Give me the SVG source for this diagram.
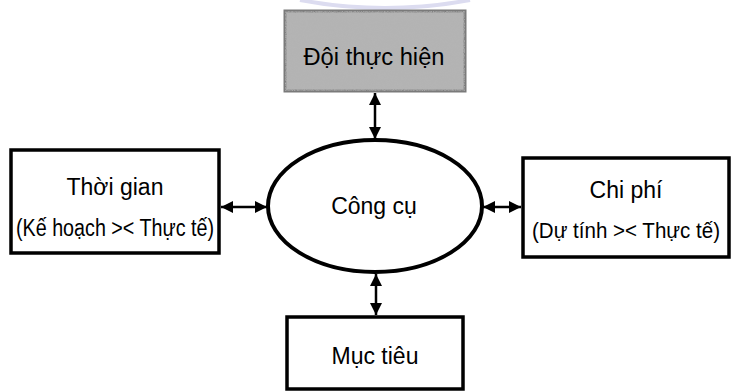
<svg xmlns="http://www.w3.org/2000/svg" width="732" height="392" viewBox="0 0 732 392">
<style>
.box{fill:#fff;stroke:#000;stroke-width:3.5}
.lbl{font-family:"Liberation Sans",Arial,sans-serif;font-size:23px;fill:#000;text-anchor:middle}
.sm{font-size:22px}
.con{stroke:#000;stroke-width:2.5;fill:none;marker-start:url(#ah);marker-end:url(#ah)}
</style>
<defs>
<marker id="ah" viewBox="0 0 10 10" refX="10" refY="5" markerWidth="12" markerHeight="12" markerUnits="userSpaceOnUse" orient="auto-start-reverse">
<path d="M0,0 L10,5 L0,10 Z" fill="#000"/>
</marker>
<filter id="grain" x="0" y="0" width="100%" height="100%">
<feTurbulence type="fractalNoise" baseFrequency="0.9" numOctaves="2" seed="3" result="n"/>
<feColorMatrix in="n" type="matrix" values="0 0 0 0 0.45  0 0 0 0 0.45  0 0 0 0 0.45  0 0 0 -1.4 1.2" result="g"/>
<feComposite in="g" in2="SourceGraphic" operator="in"/>
</filter>
</defs>
<path d="M300,0 Q385,16 470,0" fill="none" stroke="#dcdcf0" stroke-width="4"/>
<g id="connectors">
<line class="con" x1="375" y1="93" x2="375" y2="139"/>
<line class="con" x1="221" y1="207" x2="267" y2="207"/>
<line class="con" x1="483" y1="207" x2="521" y2="207"/>
<line class="con" x1="376" y1="274" x2="376" y2="315"/>
</g>
<g id="doi-thuc-hien">
<rect x="285" y="11" width="180" height="80" fill="#b4b4b4" stroke="#7a7a7a" stroke-width="3"/>
<rect x="285" y="11" width="180" height="80" fill="#fff" filter="url(#grain)" opacity="0.9"/>
<text class="lbl" x="374" y="65" textLength="141" lengthAdjust="spacingAndGlyphs">Đội thực hiện</text>
</g>
<g id="cong-cu">
<ellipse cx="375" cy="206" rx="107" ry="66" fill="#fff" stroke="#000" stroke-width="4"/>
<text class="lbl" x="374" y="214">Công cụ</text>
</g>
<g id="thoi-gian">
<rect class="box" x="11" y="150" width="208" height="103"/>
<text class="lbl" x="115" y="195">Thời gian</text>
<text class="lbl" x="115" y="236" textLength="198" lengthAdjust="spacingAndGlyphs">(Kế hoạch &gt;&lt; Thực tế)</text>
</g>
<g id="chi-phi">
<rect class="box" x="523" y="158" width="206" height="99"/>
<text class="lbl" x="626" y="198">Chi phí</text>
<text class="lbl sm" x="626" y="238" textLength="188" lengthAdjust="spacingAndGlyphs">(Dự tính &gt;&lt; Thực tế)</text>
</g>
<g id="muc-tieu">
<rect class="box" x="287" y="317" width="176" height="72"/>
<text class="lbl" x="375" y="364">Mục tiêu</text>
</g>
</svg>
